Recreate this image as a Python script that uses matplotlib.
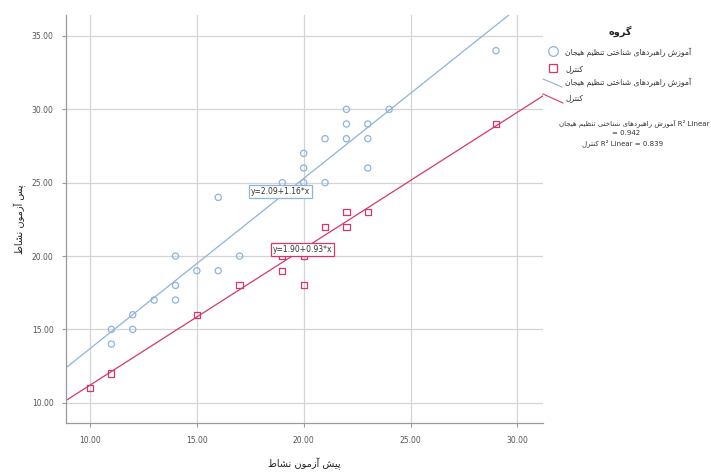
import matplotlib
matplotlib.use("Agg")
import matplotlib.pyplot as plt
from matplotlib.lines import Line2D

# ---------------- data ----------------
exp_x = [11, 11, 12, 12, 13, 14, 14, 14, 15, 16, 17, 16, 19, 20, 21, 20, 23, 20, 21, 22, 23, 22, 23, 22, 24, 29]
exp_y = [14, 15, 15, 16, 17, 17, 18, 20, 19, 19, 20, 24, 25, 25, 25, 26, 26, 27, 28, 28, 28, 29, 29, 30, 30, 34]
ctl_x = [10, 11, 15, 17, 19, 19, 20, 20, 21, 22, 22, 23, 29]
ctl_y = [11, 12, 16, 18, 19, 20, 20, 18, 22, 22, 23, 23, 29]
exp_fit = (2.09, 1.16)   # intercept, slope
ctl_fit = (1.90, 0.93)
exp_r2 = 0.942
ctl_r2 = 0.839
x_ticks = [10, 15, 20, 25, 30]
y_ticks = [10, 15, 20, 25, 30, 35]

txt_x = "پیش آزمون نشاط"
txt_y = "پس آزمون نشاط"
txt_title = "گروه"
txt_exp = "آموزش راهبردهای شناختی تنظیم هیجان"
txt_ctl = "کنترل"

# --------- minimal Persian shaping (contextual forms + visual order) ---------
FORMS = {
    'ا': ('\uFE8D', '\uFE8E'), 'آ': ('\uFE81', '\uFE82'),
    'د': ('\uFEA9', '\uFEAA'), 'ر': ('\uFEAD', '\uFEAE'),
    'ز': ('\uFEAF', '\uFEB0'), 'و': ('\uFEED', '\uFEEE'),
    'ب': ('\uFE8F', '\uFE90', '\uFE91', '\uFE92'),
    'پ': ('\uFB56', '\uFB57', '\uFB58', '\uFB59'),
    'ت': ('\uFE95', '\uFE96', '\uFE97', '\uFE98'),
    'ج': ('\uFE9D', '\uFE9E', '\uFE9F', '\uFEA0'),
    'خ': ('\uFEA5', '\uFEA6', '\uFEA7', '\uFEA8'),
    'س': ('\uFEB1', '\uFEB2', '\uFEB3', '\uFEB4'),
    'ش': ('\uFEB5', '\uFEB6', '\uFEB7', '\uFEB8'),
    'ط': ('\uFEC1', '\uFEC2', '\uFEC3', '\uFEC4'),
    'ظ': ('\uFEC5', '\uFEC6', '\uFEC7', '\uFEC8'),
    'ک': ('\uFB8E', '\uFB8F', '\uFB90', '\uFB91'),
    'گ': ('\uFB92', '\uFB93', '\uFB94', '\uFB95'),
    'ل': ('\uFEDD', '\uFEDE', '\uFEDF', '\uFEE0'),
    'م': ('\uFEE1', '\uFEE2', '\uFEE3', '\uFEE4'),
    'ن': ('\uFEE5', '\uFEE6', '\uFEE7', '\uFEE8'),
    'ه': ('\uFEE9', '\uFEEA', '\uFEEB', '\uFEEC'),
    'ی': ('\uFBFC', '\uFBFD', '\uFBFE', '\uFBFF'),
}


def shape(text):
    out = []
    n = len(text)
    for i, c in enumerate(text):
        f = FORMS.get(c)
        if f is None:
            out.append(c)
            continue
        prev = text[i - 1] if i > 0 else None
        nxt = text[i + 1] if i + 1 < n else None
        jp = prev in FORMS and len(FORMS[prev]) == 4
        jn = nxt in FORMS and len(f) == 4
        if jp and jn:
            out.append(f[3])
        elif jp:
            out.append(f[1])
        elif jn:
            out.append(f[2])
        else:
            out.append(f[0])
    return ''.join(reversed(out))


plt.rcParams['font.family'] = ['DejaVu Sans']

BLUE = '#8db4dc'
RED = '#d4386a'
GRID = '#d4d4d4'

W, H = 711, 473
fig = plt.figure(figsize=(W / 100, H / 100), dpi=100)
ax = fig.add_axes([66 / W, 1 - 423 / H, (543 - 66) / W, (423 - 15) / H])

ax.set_xlim(8.876, 31.2)
ax.set_ylim(8.62, 36.43)
ax.set_xticks(x_ticks)
ax.set_yticks(y_ticks)
ax.set_xticklabels([f"{v:.2f}" for v in x_ticks])
ax.set_yticklabels([f"{v:.2f}" for v in y_ticks])
ax.grid(True, color=GRID, linewidth=0.9)
ax.set_axisbelow(True)
for s in ('top', 'right'):
    ax.spines[s].set_visible(False)
for s in ('left', 'bottom'):
    ax.spines[s].set_color('#9a9a9a')
    ax.spines[s].set_linewidth(0.9)
ax.tick_params(axis='both', labelsize=5.5, colors='#9a9a9a', labelcolor='#555555',
               length=3, width=0.8, pad=6)

ax.scatter(exp_x, exp_y, s=20, marker='o', facecolors='none', edgecolors=BLUE,
           linewidths=0.9, zorder=3)
ax.scatter(ctl_x, ctl_y, s=20, marker='s', facecolors='none', edgecolors=RED,
           linewidths=0.9, zorder=3)

ax.axline((0, exp_fit[0]), slope=exp_fit[1], color=BLUE, linewidth=0.9, zorder=2)
ax.axline((0, ctl_fit[0]), slope=ctl_fit[1], color=RED, linewidth=0.9, zorder=2)

ax.text(18.93, 24.4, f"y={exp_fit[0]:.2f}+{exp_fit[1]:.2f}*x", fontsize=5.5,
        ha='center', va='center', color='#333333', zorder=5,
        bbox=dict(boxstyle='square,pad=0.25', fc='white', ec=BLUE, lw=0.9))
ax.text(19.95, 20.45, f"y={ctl_fit[0]:.2f}+{ctl_fit[1]:.2f}*x", fontsize=5.5,
        ha='center', va='center', color='#333333', zorder=5,
        bbox=dict(boxstyle='square,pad=0.25', fc='white', ec=RED, lw=0.9))

ax.set_xlabel(shape(txt_x), fontsize=7, color='#222222', labelpad=9)
ax.set_ylabel(shape(txt_y), fontsize=7, color='#222222', labelpad=4)


# ---------------- legend (drawn in figure pixel space) ----------------
def P(x, y):
    return x / W, 1 - y / H


fig.text(*P(620, 31), shape(txt_title), fontsize=7, fontweight='bold',
         ha='center', va='center', color='#222222')
fig.add_artist(Line2D([P(553, 51)[0]], [P(553, 51)[1]], marker='o', markersize=7,
                      markerfacecolor='none', markeredgecolor=BLUE, markeredgewidth=0.9,
                      linestyle='none'))
fig.add_artist(Line2D([P(553, 68)[0]], [P(553, 68)[1]], marker='s', markersize=6,
                      markerfacecolor='none', markeredgecolor=RED, markeredgewidth=0.9,
                      linestyle='none'))
fig.text(*P(565, 52), shape(txt_exp), fontsize=5.5, ha='left', va='center', color='#333333')
fig.text(*P(565, 69), shape(txt_ctl), fontsize=5.5, ha='left', va='center', color='#333333')

a, b = P(543, 79), P(562, 87)
fig.add_artist(Line2D([a[0], b[0]], [a[1], b[1]], color=BLUE, linewidth=0.8))
a, b = P(543, 94), P(563, 103)
fig.add_artist(Line2D([a[0], b[0]], [a[1], b[1]], color=RED, linewidth=0.8))
fig.text(*P(565, 82), shape(txt_exp), fontsize=5.5, ha='left', va='center', color='#333333')
fig.text(*P(565, 98), shape(txt_ctl), fontsize=5.5, ha='left', va='center', color='#333333')

fig.text(*P(634, 123), shape(txt_exp) + " R² Linear", fontsize=5, ha='center',
         va='center', color='#333333')
fig.text(*P(626, 133), f"= {exp_r2:.3f}", fontsize=5, ha='center', va='center',
         color='#333333')
fig.text(*P(623, 143), shape(txt_ctl) + f" R² Linear = {ctl_r2:.3f}", fontsize=5,
         ha='center', va='center', color='#333333')

fig.savefig("out.png", dpi=100, facecolor='white')
